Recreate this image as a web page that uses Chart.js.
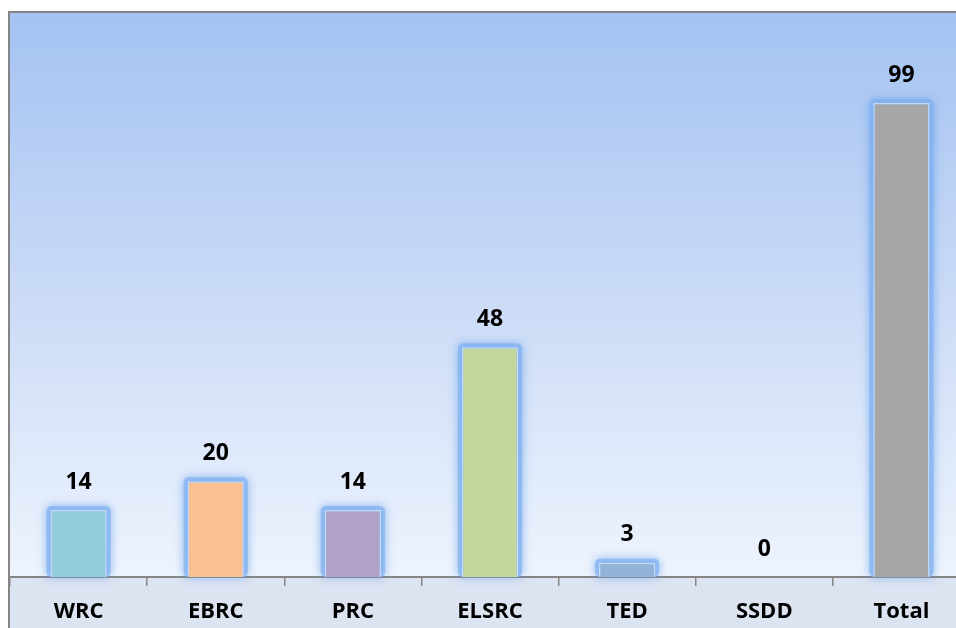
<!DOCTYPE html>
<html>
<head>
<meta charset="utf-8">
<script src="https://cdn.jsdelivr.net/npm/chart.js@4/dist/chart.umd.min.js"></script>
<style>
  html, body { margin: 0; padding: 0; background: #fff; overflow: hidden; }
  #wrap { width: 970px; height: 628px; position: relative; }
</style>
</head>
<body>
<div id="wrap"><canvas id="myChart"></canvas></div>
<script>
// chart data
var categories = ['WRC', 'EBRC', 'PRC', 'ELSRC', 'TED', 'SSDD', 'Total'];
var counts = [14, 20, 14, 48, 3, 0, 99];
var barColors = ['#92CDDC', '#FAC090', '#B3A2C7', '#C3D69B', '#95B3D7', '#95B3D7', '#A6A6A6'];

var labelFont = '"Open Sans", "Noto Sans", sans-serif';

// background, frame, glow and value labels
var frame = {
    id: 'frame',
    beforeDraw: function (chart) {
        let ctx = chart.ctx;
        let a = chart.chartArea;
        let g = ctx.createLinearGradient(0, a.top, 0, a.bottom);
        g.addColorStop(0, '#A4C2F2');
        g.addColorStop(0.55, '#CEDDF7');
        g.addColorStop(1, '#EEF4FD');
        ctx.save();
        ctx.fillStyle = g;
        ctx.fillRect(a.left, a.top, a.right - a.left, a.bottom - a.top);
        ctx.fillStyle = '#DCE3F1';
        ctx.fillRect(a.left, a.bottom, a.right - a.left, chart.height - a.bottom);
        ctx.strokeStyle = '#858585';
        ctx.lineWidth = 2;
        ctx.beginPath();
        ctx.moveTo(a.left - 1, chart.height);
        ctx.lineTo(a.left - 1, a.top);
        ctx.lineTo(a.right, a.top);
        ctx.stroke();
        ctx.restore();
    },
    beforeDatasetsDraw: function (chart) {
        let ctx = chart.ctx;
        let meta = chart.getDatasetMeta(0);
        ctx.save();
        meta.data.forEach(function (bar, i) {
            if (counts[i] <= 0) return;
            let p = bar.getProps(['x', 'y', 'base', 'width'], true);
            let pad = 4;
            ctx.shadowColor = 'rgba(100,160,235,1)';
            ctx.shadowBlur = 10;
            ctx.fillStyle = 'rgba(130,178,240,0.7)';
            ctx.beginPath();
            ctx.roundRect(p.x - p.width / 2 - pad, p.y - pad, p.width + pad * 2, p.base - p.y + pad, 5);
            ctx.fill();
        });
        ctx.restore();
    },
    afterDatasetsDraw: function (chart) {
        let ctx = chart.ctx;
        let meta = chart.getDatasetMeta(0);
        ctx.save();
        ctx.fillStyle = '#000';
        ctx.font = 'bold 23px ' + labelFont;
        ctx.textAlign = 'center';
        ctx.textBaseline = 'middle';
        meta.data.forEach(function (bar, i) {
            ctx.fillText(counts[i], bar.x, bar.y - 28);
        });
        ctx.restore();
    }
};

var ctx = document.getElementById('myChart').getContext('2d');
window.myChart = new Chart(ctx, {
    type: 'bar',
    data: {
        labels: categories,
        datasets: [{
            data: counts,
            backgroundColor: barColors,
            borderColor: 'rgba(255,255,255,0.5)',
            borderWidth: 1.5,
            categoryPercentage: 1,
            barPercentage: 0.41
        }]
    },
    options: {
        responsive: true,
        maintainAspectRatio: false,
        animation: false,
        layout: { padding: { top: 12, left: 10, right: 0, bottom: 0 } },
        plugins: {
            legend: { display: false },
            tooltip: { enabled: false }
        },
        scales: {
            x: {
                offset: true,
                grid: {
                    offset: true,
                    drawOnChartArea: false,
                    color: '#858585',
                    tickLength: 9,
                    lineWidth: 1.5
                },
                border: { color: '#858585', width: 2 },
                ticks: {
                    color: '#000',
                    padding: 13,
                    font: { family: labelFont, size: 22, weight: 'bold' }
                },
                afterFit: function (scale) { scale.height = 51; }
            },
            y: {
                display: false,
                min: 0,
                max: 118
            }
        }
    },
    plugins: [frame]
});
</script>
</body>
</html>
